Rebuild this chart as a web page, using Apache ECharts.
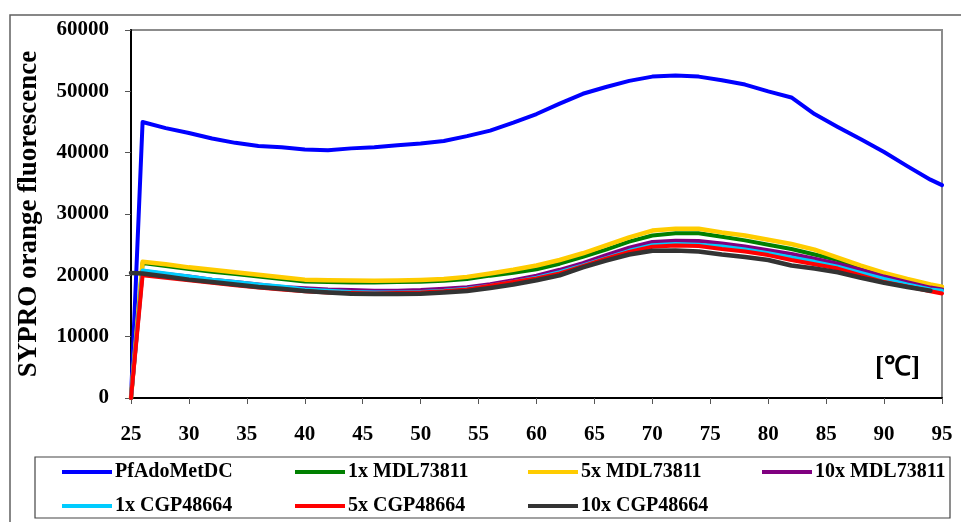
<!DOCTYPE html>
<html>
<head>
<meta charset="utf-8">
<script src="https://cdn.jsdelivr.net/npm/echarts@6/dist/echarts.min.js"></script>
<style>
  html, body { margin: 0; padding: 0; background: #fff; }
  #chart { width: 961px; height: 522px; }
</style>
</head>
<body>
<div id="chart"></div>
<script>
// Temperature steps (°C)
const temps = [25, 26, 28, 30, 32, 34, 36, 38, 40, 42, 44, 46, 48, 50, 52, 54, 56, 58, 60,
  62, 64, 66, 68, 70, 72, 74, 76, 78, 80, 82, 84, 86, 88, 90, 92, 94, 95];

// SYPRO orange fluorescence readings per sample
const pfAdoMetDC = [0, 45000, 44000, 43200, 42300, 41600, 41100, 40900, 40500, 40400, 40700,
  40900, 41200, 41500, 41900, 42700, 43600, 44900, 46300, 48000, 49600, 50700, 51700, 52400,
  52600, 52400, 51800, 51100, 50000, 49000, 46300, 44200, 42200, 40100, 37800, 35600, 34700];
const mdl1x = [0, 22000, 21500, 21050, 20600, 20200, 19800, 19400, 19000, 18900, 18850,
  18850, 18900, 18950, 19100, 19400, 19950, 20400, 21000, 21900, 23000, 24200, 25500, 26500,
  26850, 26850, 26300, 25700, 25000, 24300, 23400, 22500, 21200, 19950, 19000, 18200, 17900];
const mdl5x = [0, 22200, 21800, 21300, 20900, 20500, 20100, 19700, 19300, 19200, 19150,
  19100, 19150, 19250, 19400, 19750, 20300, 20900, 21600, 22500, 23600, 24900, 26200, 27300,
  27600, 27600, 27000, 26500, 25800, 25100, 24200, 22900, 21600, 20400, 19400, 18500, 18150];
const mdl10x = [0, 20700, 20200, 19800, 19300, 18900, 18500, 18100, 17900, 17700, 17600,
  17500, 17500, 17600, 17800, 18050, 18550, 19200, 19950, 20900, 22000, 23300, 24500, 25450,
  25650, 25600, 25200, 24700, 24100, 23500, 22700, 21900, 20900, 19800, 18900, 18000, 17700];
const cgp1x = [0, 20800, 20300, 19800, 19300, 18900, 18500, 18200, 17700, 17500, 17300,
  17200, 17200, 17300, 17500, 17800, 18300, 18900, 19600, 20500, 21600, 22800, 24000, 24900,
  25100, 25000, 24700, 24200, 23600, 22900, 22200, 21400, 20400, 19400, 18500, 17700, 17500];
const cgp5x = [0, 20000, 19600, 19200, 18800, 18400, 18000, 17700, 17400, 17200, 17100,
  17050, 17100, 17200, 17400, 17700, 18300, 18900, 19500, 20300, 21500, 22700, 23800, 24650,
  24850, 24800, 24300, 23900, 23300, 22500, 21800, 21100, 20000, 18900, 18200, 17400, 17050];
const cgp10x = [20400, 20300, 19800, 19300, 18900, 18500, 18100, 17800, 17450, 17200, 17000,
  16950, 16950, 17000, 17200, 17450, 17950, 18500, 19200, 20000, 21300, 22400, 23400, 24000,
  24050, 23900, 23400, 23000, 22500, 21600, 21100, 20500, 19600, 18800, 18100, 17500, null];

const seriesNames = ['PfAdoMetDC', '1x MDL73811', '5x MDL73811', '10x MDL73811',
  '1x CGP48664', '5x CGP48664', '10x CGP48664'];
const seriesValues = [pfAdoMetDC, mdl1x, mdl5x, mdl10x, cgp1x, cgp5x, cgp10x];
const seriesColors = ['#0000FF', '#008000', '#FFCC00', '#800080', '#00CCFF', '#FF0000', '#333333'];
const lineWidths = [4, 4, 4.5, 4, 4, 4, 4.5];

const yTicks = [0, 10000, 20000, 30000, 40000, 50000, 60000];
const xTicks = [25, 30, 35, 40, 45, 50, 55, 60, 65, 70, 75, 80, 85, 90, 95];

const FONT = '"Liberation Serif", "Times New Roman", serif';

// legend entries laid out in a 4-column grid inside the framed box
const legendCols = [57, 290, 523, 757];
const legendRows = [457, 491];
const legends = seriesNames.map((name, i) => ({
  data: [name],
  left: legendCols[i % 4],
  top: legendRows[Math.floor(i / 4)],
  icon: 'rect',
  itemWidth: 50,
  itemHeight: 4,
  itemGap: 0,
  textStyle: { fontFamily: FONT, fontWeight: 'bold', fontSize: 20, color: '#000', padding: [0, 0, 0, -2] }
}));

const plainNumber = v => String(v);

const chart = echarts.init(document.getElementById('chart'), null, { renderer: 'canvas' });
chart.setOption({
  animation: false,
  backgroundColor: '#fff',
  legend: legends,
  grid: {
    left: 131, top: 30, right: 19, bottom: 124,
    show: true, borderColor: '#8c8c8c', borderWidth: 2, backgroundColor: 'transparent'
  },
  xAxis: {
    type: 'value',
    min: xTicks[0], max: xTicks[xTicks.length - 1], interval: 5,
    axisLine: { show: true, onZero: false, lineStyle: { color: '#000', width: 2 } },
    axisTick: { show: true, length: 6, lineStyle: { color: '#555', width: 1 } },
    splitLine: { show: false },
    axisLabel: {
      margin: 26, color: '#000', fontFamily: FONT, fontWeight: 'bold', fontSize: 21,
      showMinLabel: true, showMaxLabel: true, formatter: plainNumber
    }
  },
  yAxis: {
    type: 'value',
    min: yTicks[0], max: yTicks[yTicks.length - 1], interval: 10000,
    name: 'SYPRO orange fluorescence',
    nameLocation: 'middle',
    nameGap: 88,
    nameTextStyle: { fontFamily: FONT, fontWeight: 'bold', fontSize: 27, color: '#000' },
    axisLine: { show: true, lineStyle: { color: '#000', width: 2 } },
    axisTick: { show: true, length: 6, lineStyle: { color: '#555', width: 1 } },
    splitLine: { show: false },
    axisLabel: {
      margin: 22, color: '#000', fontFamily: FONT, fontWeight: 'bold', fontSize: 21,
      formatter: plainNumber
    }
  },
  graphic: [
    {
      type: 'rect', silent: true, z: -1,
      shape: { x: 10, y: 15, width: 960, height: 520 },
      style: { fill: 'none', stroke: '#606060', lineWidth: 1.5 }
    },
    {
      type: 'rect', silent: true, z: -1,
      shape: { x: 35, y: 457, width: 915, height: 61 },
      style: { fill: '#fff', stroke: '#444', lineWidth: 1.2 }
    },
    {
      type: 'text', silent: true, left: 875, top: 355,
      style: { text: '[℃]', fontFamily: FONT, fontWeight: 'bold', fontSize: 27, fill: '#000' }
    }
  ],
  series: seriesNames.map((name, i) => ({
    name: name,
    type: 'line',
    symbol: 'none',
    smooth: false,
    connectNulls: false,
    color: seriesColors[i],
    lineStyle: { color: seriesColors[i], width: lineWidths[i], join: 'round', cap: 'round' },
    data: temps.map((t, k) => [t, seriesValues[i][k]]),
    z: 2 + i
  }))
});
</script>
</body>
</html>
